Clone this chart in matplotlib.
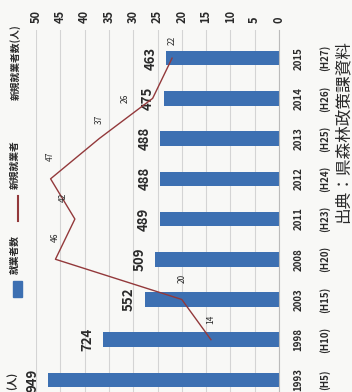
import numpy as np
import matplotlib.pyplot as plt

plt.rcParams['font.family'] = ['Noto Sans CJK JP', 'DejaVu Sans']

years = ['1993', '1998', '2003', '2008', '2011', '2012', '2013', '2014', '2015']
eras = ['(H5)', '(H10)', '(H15)', '(H20)', '(H23)', '(H24)', '(H25)', '(H26)', '(H27)']
workers = [949, 724, 552, 509, 489, 488, 488, 475, 463]
# new workers start from 1998
new_workers = [14, 20, 46, 42, 47, 37, 26, 22]

bar_color = '#3d70b2'
line_color = '#93393b'
txt = '#2a2a2a'
W, H = 352, 392

fig = plt.figure(figsize=(W / 100, H / 100), dpi=100, facecolor='#f8f8f6')
# chart is drawn turned on its side: categories run up the page, values grow to the left
ax = fig.add_axes([36 / W, 0, (279 - 36) / W, (H - 30) / H])
ax.set_facecolor('none')
pos = np.arange(len(years))

ax.barh(pos, workers, height=0.36, color=bar_color, zorder=2)
ax.set_xlim(1000, 0)
ax.set_ylim(-0.3, 8.7)
ax.set_xticks(np.arange(0, 1001, 100))
ax.grid(axis='x', color='#d4d4d4', lw=0.8)
ax.set_axisbelow(True)
ax.tick_params(axis='x', bottom=False, labelbottom=False)
ax.tick_params(axis='y', left=False, labelleft=False)
for s in ['top', 'left', 'bottom']:
    ax.spines[s].set_visible(False)
ax.spines['right'].set_color('#bbbbbb')

for p, v in zip(pos, workers):
    ax.text(v + 37, p, str(v), rotation=90, ha='right', va='center',
            fontsize=9.5, fontweight='bold', color=txt, clip_on=False)

tr = ax.get_yaxis_transform()
for p, y, e in zip(pos, years, eras):
    ax.text(1.08, p, y, transform=tr, rotation=90, ha='center', va='center',
            fontsize=7, fontweight='bold', color=txt, clip_on=False)
    ax.text(1.19, p, e, transform=tr, rotation=90, ha='center', va='center',
            fontsize=7, fontweight='bold', color=txt, clip_on=False)

ax2 = ax.twiny()
ax2.set_xlim(50, 0)
ax2.plot(new_workers, pos[1:], color=line_color, lw=1.0, zorder=3)
ax2.set_xticks(np.arange(0, 51, 5))
ax2.tick_params(axis='x', top=True, length=0, pad=5, labelsize=8,
                labelrotation=90, labelcolor=txt)
for lab in ax2.get_xticklabels():
    lab.set_fontweight('bold')
for s in ax2.spines.values():
    s.set_visible(False)

offsets = [(0, 15), (0, 15), (0, 16), (-8, 16), (0, 16), (0, 14), (-20, 0), (0, 13)]
for v, p, (dx, dy) in zip(new_workers, pos[1:], offsets):
    ax2.annotate(str(v), (v, p), xytext=(dx, dy), textcoords='offset points',
                 rotation=90, ha='center', va='center', fontsize=6, color=txt)

# legend and axis captions
fig.text(15 / W, 1 - 62 / H, '新規就業者数(人)', rotation=90, ha='center', va='center',
         fontsize=7, fontweight='bold', color=txt)
fig.text(15 / W, 1 - 165 / H, '新規就業者', rotation=90, ha='center', va='center',
         fontsize=7, fontweight='bold', color=txt)
fig.add_artist(plt.Line2D([18 / W, 18 / W], [1 - 221 / H, 1 - 196 / H],
                          color=line_color, lw=1.5))
fig.text(15 / W, 1 - 255 / H, '就業者数', rotation=90, ha='center', va='center',
         fontsize=7, fontweight='bold', color=txt)
fig.add_artist(plt.Rectangle((13 / W, 1 - 297 / H), 9 / W, 16 / H, color=bar_color))
fig.text(12 / W, 1 - 381 / H, '(人)', rotation=90, ha='center', va='center',
         fontsize=7.5, fontweight='bold', color=txt)

fig.text(343 / W, 1 - 132 / H, '出典：県森林政策課資料', rotation=90, ha='center',
         va='center', fontsize=12, color=txt)

fig.savefig('out.png', dpi=100, facecolor=fig.get_facecolor())
